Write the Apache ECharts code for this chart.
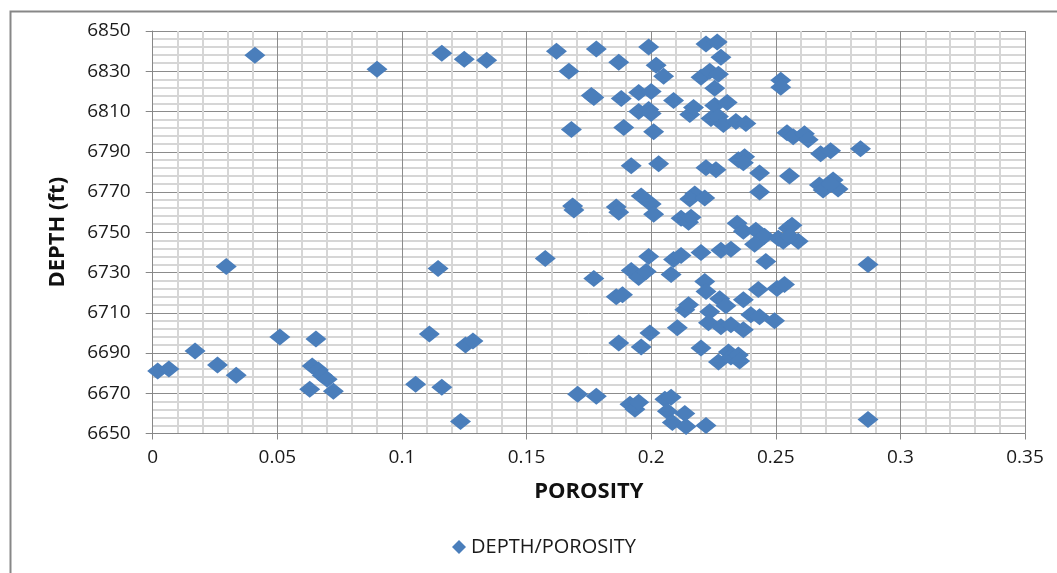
<!DOCTYPE html>
<html>
<head>
<meta charset="utf-8">
<script src="https://cdn.jsdelivr.net/npm/echarts@6/dist/echarts.min.js"></script>
<style>
html,body{margin:0;padding:0;background:#fff;}
#chart{width:1057px;height:573px;}
</style>
</head>
<body>
<div id="chart"></div>
<script>
const seriesName = 'DEPTH/POROSITY';
const porosity = [
0.041,0.090,0.116,0.125,0.134,0.162,0.167,0.178,0.187,0.199,0.202,0.205,
0.176,0.177,0.188,0.195,0.200,0.209,0.195,0.199,0.200,0.2155,0.217,
0.168,0.189,0.201,0.192,0.203,
0.222,0.2265,0.228,0.220,0.2235,0.227,0.2255,0.252,0.252,
0.2255,0.2305,0.224,0.227,0.229,0.234,0.238,
0.2545,0.257,0.2615,0.263,0.268,0.272,0.284,
0.222,0.226,0.235,0.2375,0.237,0.2435,0.2555,0.2435,
0.2675,0.273,0.275,0.269,0.272,
0.196,0.200,0.2175,0.2155,0.2215,
0.1685,0.169,0.186,0.187,0.201,0.212,0.215,0.216,
0.1575,0.1145,0.177,0.192,0.195,0.198,0.199,0.208,0.209,0.212,0.220,
0.186,0.1885,0.2135,0.215,
0.111,0.1255,0.1285,0.1995,0.2105,0.187,0.196,
0.1055,0.116,0.1235,0.1705,0.178,0.1915,0.1935,0.195,0.2055,0.208,0.2065,0.2085,0.2135,0.214,
0.2345,0.237,0.242,0.2455,0.2415,0.251,0.253,0.255,0.2565,0.259,0.2555,
0.228,0.232,0.246,0.287,
0.2215,0.243,0.2505,0.2535,
0.222,0.2275,0.230,0.237,0.2235,0.223,0.228,0.232,0.237,0.240,0.2435,0.2495,
0.220,0.227,0.231,0.232,0.235,0.2355,
0.222,0.287,
0.002,0.0065,0.017,0.026,0.0335,0.0295,0.051,0.0655,0.064,0.0665,0.068,0.070,0.063,0.0725
];
const depth = [
6838,6831,6839,6836,6835.5,6840,6830,6841,6834.5,6842,6833,6827.5,
6818,6817,6816.5,6819.5,6820,6815.5,6810,6811,6809,6808.5,6812,
6801,6802,6800,6783,6784,
6843.5,6844.5,6837,6827,6830,6828.5,6821.5,6825.5,6822,
6813,6814.5,6806.5,6807.5,6803.5,6805,6804,
6799.5,6797.5,6799,6796,6789,6790.5,6791.5,
6782,6781,6786,6787.5,6784.5,6779.5,6778,6770,
6773.5,6776,6771.5,6771,6774,
6768,6764,6769,6766.5,6767,
6763,6761,6762.5,6760,6759,6757,6755,6757.5,
6737,6732,6727,6731,6727.5,6730.5,6738,6729,6736.5,6738.5,6740,
6718,6719,6711.5,6714,
6699.5,6694,6696,6700,6702.5,6695,6693,
6674.5,6673,6656,6669.5,6668.5,6664.5,6662,6665.5,6667,6668,6661,6655.5,6660,6653.5,
6754.5,6750.5,6751,6748,6744,6747,6745.5,6752,6753.5,6745.5,6748,
6741,6741.5,6735.5,6734,
6725.5,6721.5,6722,6724,
6720.5,6717,6713.5,6716.5,6710.5,6705,6703,6704,6701.5,6709,6708,6706,
6692.5,6685.5,6690.5,6688,6689,6686,
6654,6657,
6681,6682,6691,6684,6679,6733,6698,6697,6683.5,6681.5,6679,6677,6672,6671
];
const xTicks = [0, 0.35, 0.05];
const yTicks = [6650, 6850, 20];

const points = porosity.map((p, i) => [p, depth[i]]);
const labelFont = '"Open Sans", "Liberation Sans", sans-serif';
const chart = echarts.init(document.getElementById('chart'), null, {renderer: 'canvas'});
chart.setOption({
  animation: false,
  backgroundColor: '#ffffff',
  graphic: [{
    type: 'rect', left: 8, top: 9, silent: true, z: -10,
    shape: {width: 1200, height: 700},
    style: {fill: 'none', stroke: '#878787', lineWidth: 2}
  }],
  grid: {left: 152.7, right: 32, top: 31, bottom: 139.5, containLabel: false},
  legend: {
    show: true, bottom: 11, left: 447,
    icon: 'diamond', itemWidth: 14, itemHeight: 14, itemGap: 6,
    textStyle: {fontFamily: labelFont, fontSize: 20, color: '#1a1a1a'},
    data: [seriesName]
  },
  xAxis: {
    type: 'value', min: xTicks[0], max: xTicks[1], interval: xTicks[2],
    name: 'POROSITY', nameLocation: 'middle', nameGap: 47,
    nameTextStyle: {fontFamily: labelFont, fontWeight: 'bold', fontSize: 22, color: '#111'},
    axisLine: {show: true, lineStyle: {color: '#878787', width: 1}},
    axisTick: {show: true, length: 6, lineStyle: {color: '#878787'}},
    axisLabel: {margin: 15, fontFamily: labelFont, fontSize: 19, color: '#1a1a1a',
      formatter: v => String(+v.toFixed(2))},
    splitLine: {show: true, lineStyle: {color: '#8c8c8c', width: 1}},
    minorTick: {show: false, splitNumber: 5},
    minorSplitLine: {show: true, lineStyle: {color: '#d6d6d6', width: 2}}
  },
  yAxis: {
    type: 'value', min: yTicks[0], max: yTicks[1], interval: yTicks[2],
    name: 'DEPTH (ft)', nameLocation: 'middle', nameGap: 84,
    nameTextStyle: {fontFamily: labelFont, fontWeight: 'bold', fontSize: 22, color: '#111'},
    axisLine: {show: true, lineStyle: {color: '#878787', width: 1}},
    axisTick: {show: true, length: 7, lineStyle: {color: '#878787'}},
    axisLabel: {margin: 22, fontFamily: labelFont, fontSize: 19, color: '#1a1a1a',
      formatter: v => String(v)},
    splitLine: {show: true, lineStyle: {color: '#8c8c8c', width: 1}},
    minorTick: {show: false, splitNumber: 5},
    minorSplitLine: {show: true, lineStyle: {color: '#d6d6d6', width: 2}}
  },
  series: [{
    name: seriesName, type: 'scatter', symbol: 'diamond', symbolSize: [21, 17],
    itemStyle: {color: '#4a7ebb', opacity: 1},
    data: points
  }]
});
</script>
</body>
</html>
